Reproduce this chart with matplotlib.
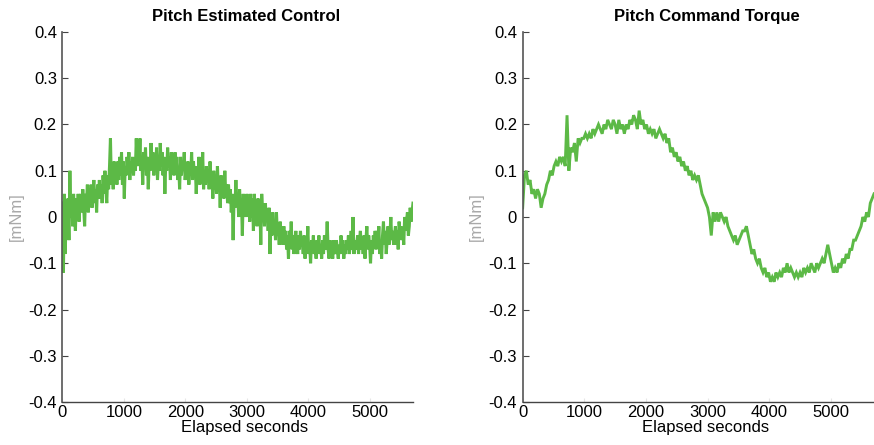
import numpy as np
import matplotlib
matplotlib.use("Agg")
from matplotlib import pyplot as plt
from matplotlib.ticker import FuncFormatter

plt.rcParams["font.family"] = ["Liberation Sans", "DejaVu Sans"]
plt.rcParams["axes.unicode_minus"] = False

# sample spacing of each telemetry channel [s]
dt_est = 15
dt_cmd = 30

# estimated control torque [mNm], one row = 300 s
est_control = [
    0.03, -0.12, 0.05, -0.08, 0.02, -0.03, 0.04, -0.05, 0.10, 0.00,
    0.04, -0.02, 0.05, 0.01, -0.03, 0.04, 0.00, 0.05, -0.01, 0.03,
    0.05, 0.01, 0.06, 0.02, -0.02, 0.05, 0.03, 0.07, 0.01, 0.06,
    0.03, 0.07, 0.02, 0.05, 0.08, 0.03, 0.06, 0.01, 0.07, 0.04,
    0.08, 0.04, 0.07, 0.03, 0.09, 0.05, 0.10, 0.06, 0.03, 0.09,
    0.06, 0.11, 0.17, 0.07, 0.10, 0.06, 0.12, 0.08, 0.11, 0.07,
    0.12, 0.08, 0.13, 0.09, 0.14, 0.07, 0.12, 0.04, 0.11, 0.09,
    0.13, 0.10, 0.14, 0.08, 0.12, 0.10, 0.13, 0.09, 0.12, 0.10,
    0.17, 0.11, 0.16, 0.12, 0.17, 0.10, 0.13, 0.07, 0.14, 0.11,
    0.15, 0.09, 0.13, 0.06, 0.12, 0.10, 0.16, 0.11, 0.14, 0.09,
    0.13, 0.10, 0.15, 0.08, 0.12, 0.10, 0.16, 0.11, 0.14, 0.09,
    0.13, 0.05, 0.12, 0.10, 0.15, 0.11, 0.13, 0.08, 0.14, 0.10,
    0.12, 0.09, 0.14, 0.10, 0.13, 0.08, 0.11, 0.06, 0.13, 0.09,
    0.12, 0.10, 0.14, 0.08, 0.11, 0.09, 0.12, 0.07, 0.11, 0.09,
    0.14, 0.08, 0.12, 0.09, 0.11, 0.05, 0.10, 0.08, 0.13, 0.07,
    0.11, 0.08, 0.14, 0.06, 0.10, 0.07, 0.11, 0.08, 0.10, 0.06,
    0.12, 0.07, 0.09, 0.04, 0.10, 0.06, 0.08, 0.05, 0.11, 0.06,
    0.08, 0.02, 0.09, 0.05, 0.07, 0.04, 0.10, 0.05, 0.07, 0.03,
    0.07, 0.03, 0.06, 0.01, 0.05, -0.05, 0.04, 0.02, 0.08, 0.03,
    0.05, 0.00, 0.06, 0.02, 0.04, -0.04, 0.05, 0.01, 0.03, 0.00,
    0.05, 0.01, 0.03, -0.01, 0.05, 0.00, 0.04, -0.03, 0.05, 0.01,
    0.03, -0.02, 0.04, 0.00, 0.03, -0.06, 0.05, 0.01, 0.02, -0.02,
    0.03, -0.01, 0.01, -0.03, 0.02, -0.08, 0.00, -0.04, 0.01, -0.03,
    -0.01, -0.05, 0.01, -0.04, -0.02, -0.06, -0.01, -0.04, -0.02, -0.06,
    -0.02, -0.06, -0.03, -0.07, -0.04, -0.09, -0.03, -0.06, -0.01, -0.07,
    -0.04, -0.08, -0.05, -0.03, -0.06, -0.08, -0.04, -0.07, -0.03, -0.06,
    -0.05, -0.08, -0.04, -0.09, -0.05, -0.07, -0.02, -0.08, -0.06, -0.10,
    -0.05, -0.07, -0.04, -0.08, -0.06, -0.09, -0.05, -0.07, -0.04, -0.08,
    -0.06, -0.09, -0.05, -0.08, -0.04, -0.07, -0.06, -0.01, -0.07, -0.09,
    -0.05, -0.08, -0.06, -0.09, -0.05, -0.07, -0.08, -0.05, -0.07, -0.09,
    -0.06, -0.08, -0.04, -0.07, -0.05, -0.09, -0.06, -0.08, -0.05, -0.07,
    -0.04, -0.08, -0.06, -0.03, -0.07, 0.00, -0.08, -0.05, -0.07, -0.06,
    -0.04, -0.08, -0.05, -0.03, -0.07, -0.05, -0.08, -0.04, -0.09, -0.05,
    -0.02, -0.07, -0.04, -0.06, -0.10, -0.05, -0.08, -0.04, -0.06, -0.03,
    -0.07, -0.03, -0.06, -0.02, -0.08, -0.05, -0.09, -0.04, -0.01, -0.06,
    -0.03, -0.08, -0.05, -0.02, -0.06, -0.04, 0.00, -0.05, -0.03, -0.06,
    -0.04, -0.02, -0.06, -0.03, -0.07, -0.01, -0.04, -0.02, -0.05, -0.03,
    -0.06, 0.00, -0.03, -0.01, 0.01, -0.04, -0.02, 0.02, -0.01, 0.01,
    0.03,
]

# commanded torque [mNm], one row = 300 s
cmd_torque = [
    0.02, 0.09, 0.10, 0.07, 0.08, 0.05, 0.06, 0.04, 0.06, 0.05,
    0.02, 0.04, 0.05, 0.07, 0.08, 0.10, 0.09, 0.11, 0.12, 0.11,
    0.13, 0.12, 0.13, 0.11, 0.22, 0.10, 0.15, 0.14, 0.16, 0.12,
    0.17, 0.16, 0.17, 0.17, 0.18, 0.17, 0.18, 0.17, 0.19, 0.18,
    0.19, 0.20, 0.19, 0.18, 0.20, 0.19, 0.21, 0.20, 0.19, 0.21,
    0.20, 0.18, 0.21, 0.19, 0.20, 0.18, 0.20, 0.19, 0.21, 0.20,
    0.22, 0.21, 0.19, 0.23, 0.20, 0.21, 0.19, 0.20, 0.18, 0.19,
    0.18, 0.19, 0.17, 0.18, 0.19, 0.18, 0.17, 0.18, 0.16, 0.17,
    0.14, 0.15, 0.13, 0.14, 0.12, 0.13, 0.11, 0.12, 0.10, 0.11,
    0.09, 0.10, 0.08, 0.09, 0.08, 0.09, 0.07, 0.05, 0.04, 0.03,
    0.02, 0.00, -0.04, 0.01, -0.01, 0.01, -0.01, 0.01, 0.00, -0.01,
    0.00, -0.02, -0.03, -0.04, -0.05, -0.04, -0.06, -0.05, -0.04, -0.03,
    -0.03, -0.02, -0.04, -0.06, -0.08, -0.07, -0.09, -0.10, -0.09, -0.11,
    -0.12, -0.11, -0.13, -0.12, -0.14, -0.13, -0.14, -0.12, -0.13, -0.12,
    -0.13, -0.11, -0.12, -0.10, -0.12, -0.11, -0.12, -0.13, -0.12, -0.13,
    -0.12, -0.13, -0.11, -0.12, -0.11, -0.12, -0.10, -0.11, -0.12, -0.10,
    -0.11, -0.10, -0.09, -0.10, -0.08, -0.06, -0.08, -0.10, -0.12, -0.11,
    -0.12, -0.10, -0.11, -0.09, -0.10, -0.08, -0.09, -0.07, -0.07, -0.05,
    -0.05, -0.04, -0.03, -0.02, 0.00, -0.01, 0.01, 0.00, 0.03, 0.04,
    0.05,
]

titles = ["Pitch Estimated Control", "Pitch Command Torque"]
y_ticks = [-0.4, -0.3, -0.2, -0.1, 0, 0.1, 0.2, 0.3, 0.4]
x_ticks = [0, 1000, 2000, 3000, 4000, 5000]

green = "#5cb946"
fs = 12


def fmt_y(v, pos):
    return "0" if abs(v) < 1e-9 else "%.1f" % v


fig = plt.figure(figsize=(8.74, 4.45), dpi=100)
ax1 = fig.add_axes([0.0715, 0.0966, 0.401, 0.8315])
ax2 = fig.add_axes([0.598, 0.0966, 0.402, 0.8315])

panels = [(ax1, est_control, dt_est, titles[0], 2.2),
          (ax2, cmd_torque, dt_cmd, titles[1], 2.1)]
for ax, series, dt, title, lw in panels:
    t = np.arange(len(series)) * dt
    ax.plot(t, series, color=green, lw=lw, solid_joinstyle="miter")
    ax.set_xlim(0, 5700)
    ax.set_ylim(-0.4, 0.4)
    ax.set_yticks(y_ticks)
    ax.set_xticks(x_ticks)
    ax.yaxis.set_major_formatter(FuncFormatter(fmt_y))
    for s in ["top", "right"]:
        ax.spines[s].set_visible(False)
    ax.spines["left"].set_color("#555555")
    ax.spines["left"].set_linewidth(1.2)
    ax.spines["bottom"].set_color("#444444")
    ax.spines["bottom"].set_linewidth(1.0)
    ax.tick_params(axis="y", direction="in", length=4, width=0.8,
                   color="#444444", labelsize=fs, pad=4)
    ax.tick_params(axis="x", direction="in", length=3, width=0.8,
                   color="#e6e6e6", labelsize=fs, pad=2)
    ax.set_title(title, fontsize=fs, fontweight="bold", pad=8, x=0.525)
    ax.set_xlabel("Elapsed seconds", fontsize=fs, labelpad=0)
    ax.xaxis.label.set_x(0.52)
    ax.set_ylabel("[mNm]", fontsize=fs, color="#a8a8a8", labelpad=3)

fig.savefig("out.png", dpi=100)
